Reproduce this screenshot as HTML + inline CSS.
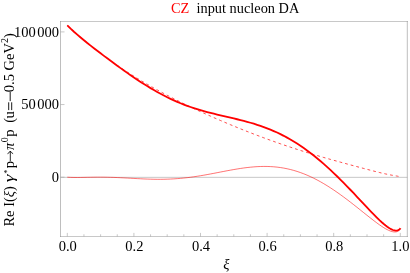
<!DOCTYPE html>
<html><head><meta charset="utf-8"><title>plot</title>
<style>
html,body{margin:0;padding:0;background:#fff;}
body{width:410px;height:273px;overflow:hidden;}
svg{display:block;will-change:transform;}
text{font-family:"Liberation Serif",serif;font-size:14.5px;fill:#000;}
.it{font-style:italic;}
</style></head><body>
<svg width="410" height="273" viewBox="0 0 410 273">
<rect x="0" y="0" width="410" height="273" fill="#fff"/>
<!-- zero axis -->
<line x1="60.5" y1="177.35" x2="407.3" y2="177.35" stroke="#9c9c9c" stroke-width="0.56"/>
<!-- frame -->
<path d="M60.5 21.5H407.3M60.5 236.5H407.3" fill="none" stroke="#9c9c9c" stroke-width="0.56" stroke-linecap="square"/>
<path d="M60.5 21.5V236.5M407.3 21.5V236.5" fill="none" stroke="#8a8a8a" stroke-width="0.56" stroke-linecap="square"/>
<g stroke="#9c9c9c" stroke-width="0.56"><line x1="67.30" y1="236.50" x2="67.30" y2="232.90"/><line x1="83.95" y1="236.50" x2="83.95" y2="234.30"/><line x1="100.60" y1="236.50" x2="100.60" y2="234.30"/><line x1="117.25" y1="236.50" x2="117.25" y2="234.30"/><line x1="133.90" y1="236.50" x2="133.90" y2="232.90"/><line x1="150.55" y1="236.50" x2="150.55" y2="234.30"/><line x1="167.20" y1="236.50" x2="167.20" y2="234.30"/><line x1="183.85" y1="236.50" x2="183.85" y2="234.30"/><line x1="200.50" y1="236.50" x2="200.50" y2="232.90"/><line x1="217.15" y1="236.50" x2="217.15" y2="234.30"/><line x1="233.80" y1="236.50" x2="233.80" y2="234.30"/><line x1="250.45" y1="236.50" x2="250.45" y2="234.30"/><line x1="267.10" y1="236.50" x2="267.10" y2="232.90"/><line x1="283.75" y1="236.50" x2="283.75" y2="234.30"/><line x1="300.40" y1="236.50" x2="300.40" y2="234.30"/><line x1="317.05" y1="236.50" x2="317.05" y2="234.30"/><line x1="333.70" y1="236.50" x2="333.70" y2="232.90"/><line x1="350.35" y1="236.50" x2="350.35" y2="234.30"/><line x1="367.00" y1="236.50" x2="367.00" y2="234.30"/><line x1="383.65" y1="236.50" x2="383.65" y2="234.30"/><line x1="400.30" y1="236.50" x2="400.30" y2="232.90"/><line x1="60.50" y1="177.20" x2="64.50" y2="177.20"/><line x1="60.50" y1="104.55" x2="64.50" y2="104.55"/><line x1="60.50" y1="31.90" x2="64.50" y2="31.90"/></g>
<!-- curves -->
<path d="M67.30 25.37 L70.63 28.45 L73.96 31.46 L77.29 34.41 L80.62 37.29 L83.95 40.12 L87.28 42.88 L90.61 45.59 L93.94 48.24 L97.27 50.83 L100.60 53.38 L103.93 55.87 L107.26 58.31 L110.59 60.70 L113.92 63.05 L117.25 65.35 L120.58 67.61 L123.91 69.83 L127.24 72.00 L130.57 74.13 L133.90 76.23 L137.23 78.28 L140.56 80.30 L143.89 82.29 L147.22 84.23 L150.55 86.15 L153.88 88.04 L157.21 89.89 L160.54 91.71 L163.87 93.51 L167.20 95.27 L170.53 97.01 L173.86 98.73 L177.19 100.42 L180.52 102.08 L183.85 103.73 L187.18 105.35 L190.51 106.95 L193.84 108.53 L197.17 110.08 L200.50 111.63 L203.83 113.15 L207.16 114.65 L210.49 116.14 L213.82 117.61 L217.15 119.06 L220.48 120.50 L223.81 121.92 L227.14 123.33 L230.47 124.72 L233.80 126.10 L237.13 127.46 L240.46 128.81 L243.79 130.14 L247.12 131.46 L250.45 132.76 L253.78 134.05 L257.11 135.32 L260.44 136.58 L263.77 137.82 L267.10 139.05 L270.43 140.26 L273.76 141.45 L277.09 142.63 L280.42 143.79 L283.75 144.94 L287.08 146.07 L290.41 147.18 L293.74 148.28 L297.07 149.36 L300.40 150.43 L303.73 151.48 L307.06 152.51 L310.39 153.53 L313.72 154.53 L317.05 155.52 L320.38 156.50 L323.71 157.47 L327.04 158.42 L330.37 159.36 L333.70 160.30 L337.03 161.22 L340.36 162.14 L343.69 163.05 L347.02 163.96 L350.35 164.86 L353.68 165.76 L357.01 166.65 L360.34 167.55 L363.67 168.44 L367.00 169.32 L370.68 170.28 L373.95 171.13 L376.86 171.87 L379.45 172.51 L381.76 173.06 L383.80 173.53 L385.63 173.94 L387.25 174.29 L388.69 174.58 L389.97 174.84 L391.11 175.05 L392.13 175.24 L393.03 175.40 L393.83 175.54 L394.55 175.66 L395.18 175.76 L395.75 175.86 L396.25 175.94 L396.70 176.02 L397.10 176.09 L397.45 176.16 L397.77 176.22 L398.05 176.28 L398.30 176.33 L398.52 176.39 L398.71 176.43 L398.89 176.48 L399.04 176.53 L399.18 176.57 L399.31 176.61 L399.42 176.65 L399.51 176.68 L399.60 176.72 L399.68 176.75 L399.75 176.78 L399.81 176.81 L399.86 176.84 L399.91 176.87 L399.95 176.89 L399.99 176.92 L400.03 176.94 L400.06 176.96 L400.08 176.98 L400.11 176.99 L400.13 177.01 L400.15 177.03 L400.16 177.04 L400.18 177.05 L400.19 177.07 L400.20 177.08 L400.22 177.09 L400.22 177.10 L400.23 177.11 L400.24 177.11 L400.25 177.12 L400.25 177.13 L400.26 177.13 L400.26 177.14 L400.27 177.15 L400.30 177.20" fill="none" stroke="#ff0000" stroke-width="0.7" stroke-dasharray="2.8 3.0"/>
<path d="M67.30 177.20 L70.63 177.38 L73.96 177.46 L77.29 177.47 L80.62 177.44 L83.95 177.38 L87.28 177.31 L90.61 177.25 L93.94 177.20 L97.27 177.17 L100.60 177.16 L103.93 177.18 L107.26 177.24 L110.59 177.32 L113.92 177.42 L117.25 177.56 L120.58 177.71 L123.91 177.88 L127.24 178.06 L130.57 178.24 L133.90 178.43 L137.23 178.61 L140.56 178.78 L143.89 178.94 L147.22 179.07 L150.55 179.18 L153.88 179.26 L157.21 179.30 L160.54 179.30 L163.87 179.26 L167.20 179.17 L170.53 179.04 L173.86 178.86 L177.19 178.63 L180.52 178.36 L183.85 178.03 L187.18 177.66 L190.51 177.24 L193.84 176.78 L197.17 176.28 L200.50 175.74 L203.83 175.18 L207.16 174.58 L210.49 173.96 L213.82 173.33 L217.15 172.69 L220.48 172.04 L223.81 171.40 L227.14 170.76 L230.47 170.15 L233.80 169.55 L237.13 168.99 L240.46 168.46 L243.79 167.98 L247.12 167.55 L250.45 167.19 L253.78 166.88 L257.11 166.65 L260.44 166.50 L263.77 166.43 L267.10 166.46 L270.43 166.58 L273.76 166.80 L277.09 167.12 L280.42 167.55 L283.75 168.09 L287.08 168.75 L290.41 169.52 L293.74 170.41 L297.07 171.42 L300.40 172.55 L303.73 173.79 L307.06 175.15 L310.39 176.63 L313.72 178.22 L317.05 179.92 L320.38 181.73 L323.71 183.65 L327.04 185.66 L330.37 187.77 L333.70 189.97 L337.03 192.25 L340.36 194.61 L343.69 197.04 L347.02 199.54 L350.35 202.09 L353.68 204.68 L357.01 207.31 L360.34 209.97 L363.67 212.64 L367.00 215.30 L370.68 218.20 L373.95 220.74 L376.86 222.93 L379.45 224.79 L381.76 226.37 L383.80 227.69 L385.63 228.77 L387.25 229.65 L388.69 230.35 L389.97 230.89 L391.11 231.30 L392.13 231.59 L393.03 231.79 L393.83 231.91 L394.55 231.96 L395.18 231.96 L395.75 231.91 L396.25 231.83 L396.70 231.72 L397.10 231.60 L397.45 231.46 L397.77 231.30 L398.05 231.15 L398.30 230.99 L398.52 230.83 L398.71 230.67 L398.89 230.51 L399.04 230.36 L399.18 230.22 L399.31 230.08 L399.42 229.95 L399.51 229.83 L399.60 229.71 L399.68 229.60 L399.75 229.49 L399.81 229.40 L399.86 229.31 L399.91 229.22 L399.95 229.15 L399.99 229.07 L400.03 229.01 L400.06 228.95 L400.08 228.89 L400.11 228.84 L400.13 228.79 L400.15 228.74 L400.16 228.70 L400.18 228.67 L400.19 228.63 L400.20 228.60 L400.22 228.57 L400.22 228.55 L400.23 228.52 L400.24 228.50 L400.25 228.48 L400.25 228.46 L400.26 228.45 L400.26 228.43 L400.27 228.42 L400.30 228.29" fill="none" stroke="#ff0000" stroke-width="0.55"/>
<path d="M67.30 25.37 L70.63 28.62 L73.96 31.72 L77.29 34.68 L80.62 37.53 L83.95 40.30 L87.28 42.99 L90.61 45.63 L93.94 48.23 L97.27 50.80 L100.60 53.34 L103.93 55.85 L107.26 58.34 L110.59 60.82 L113.92 63.27 L117.25 65.71 L120.58 68.12 L123.91 70.50 L127.24 72.86 L130.57 75.18 L133.90 77.46 L137.23 79.70 L140.56 81.89 L143.89 84.02 L147.22 86.11 L150.55 88.13 L153.88 90.09 L157.21 91.99 L160.54 93.81 L163.87 95.57 L167.20 97.25 L170.53 98.85 L173.86 100.39 L177.19 101.85 L180.52 103.24 L183.85 104.56 L187.18 105.80 L190.51 106.99 L193.84 108.10 L197.17 109.16 L200.50 110.17 L203.83 111.12 L207.16 112.03 L210.49 112.90 L213.82 113.74 L217.15 114.55 L220.48 115.34 L223.81 116.12 L227.14 116.89 L230.47 117.67 L233.80 118.45 L237.13 119.25 L240.46 120.07 L243.79 120.92 L247.12 121.81 L250.45 122.75 L253.78 123.73 L257.11 124.77 L260.44 125.88 L263.77 127.05 L267.10 128.30 L270.43 129.63 L273.76 131.05 L277.09 132.55 L280.42 134.14 L283.75 135.83 L287.08 137.62 L290.41 139.50 L293.74 141.49 L297.07 143.58 L300.40 145.77 L303.73 148.07 L307.06 150.46 L310.39 152.96 L313.72 155.55 L317.05 158.25 L320.38 161.03 L323.71 163.91 L327.04 166.88 L330.37 169.93 L333.70 173.07 L337.03 176.27 L340.36 179.55 L343.69 182.89 L347.02 186.30 L350.35 189.75 L353.68 193.24 L357.01 196.77 L360.34 200.32 L363.67 203.87 L367.00 207.41 L370.68 211.29 L373.95 214.67 L376.86 217.59 L379.45 220.10 L381.76 222.23 L383.80 224.02 L385.63 225.51 L387.25 226.73 L388.69 227.73 L389.97 228.53 L391.11 229.15 L392.13 229.63 L393.03 229.99 L393.83 230.25 L394.55 230.42 L395.18 230.52 L395.75 230.57 L396.25 230.58 L396.70 230.55 L397.10 230.49 L397.45 230.42 L397.77 230.33 L398.05 230.23 L398.30 230.12 L398.52 230.01 L398.71 229.90 L398.89 229.80 L399.04 229.69 L399.18 229.59 L399.31 229.49 L399.42 229.40 L399.51 229.31 L399.60 229.23 L399.68 229.15 L399.75 229.08 L399.81 229.01 L399.86 228.95 L399.91 228.89 L399.95 228.84 L399.99 228.79 L400.03 228.74 L400.06 228.70 L400.08 228.66 L400.11 228.63 L400.13 228.60 L400.15 228.57 L400.16 228.54 L400.18 228.52 L400.19 228.50 L400.20 228.48 L400.22 228.46 L400.22 228.44 L400.23 228.43 L400.24 228.42 L400.25 228.40 L400.25 228.39 L400.26 228.38 L400.26 228.37 L400.27 228.36 L400.30 228.29" fill="none" stroke="#ff0000" stroke-width="1.8" stroke-linecap="butt" stroke-linejoin="round"/>
<!-- title -->
<text x="171" y="13" xml:space="preserve" style="font-size:14.35px"><tspan fill="#ff0000">CZ</tspan>  input nucleon DA</text>
<!-- x tick labels -->
<g text-anchor="middle">
<text x="67.8" y="251.2">0.0</text>
<text x="134.4" y="251.2">0.2</text>
<text x="201" y="251.2">0.4</text>
<text x="267.6" y="251.2">0.6</text>
<text x="334.2" y="251.2">0.8</text>
<text x="400.4" y="251.2">1.0</text>
</g>
<!-- y tick labels -->
<g text-anchor="end">
<text x="59.1" y="36.6">100<tspan dx="1.6">000</tspan></text>
<text x="59.1" y="109.1">50<tspan dx="1.6">000</tspan></text>
<text x="59.1" y="181.6">0</text>
</g>
<!-- x label -->
<text x="226.3" y="268.7" class="it" text-anchor="middle">&#958;</text>
<!-- y label -->
<g transform="translate(13.6 226.6) rotate(-90)">
<text x="0" y="0" xml:space="preserve">Re I(<tspan class="it">&#958;</tspan>)</text>
<text transform="translate(44.3 0) scale(1.35 1)" class="it">&#947;</text>
<text x="53.1" y="-4.0" style="font-size:7.5px">*</text>
<text x="58.3" y="0">p</text>
<path d="M65.5 -3.3 H75.3 M72.9 -6.1 Q73.9 -4.0 75.6 -3.3 Q73.9 -2.6 72.9 -0.5" fill="none" stroke="#000" stroke-width="0.85"/>
<text x="76.7" y="0" class="it">&#960;</text>
<text x="84.4" y="-5.5" style="font-size:10px">0</text>
<text x="89.9" y="0">p</text>
<text x="103.9" y="0">(</text>
<text x="108.2" y="0">u</text>
<path d="M116.5 -1.9 H124.3 M116.5 -4.9 H124.3 M125.5 -3.4 H134.6" fill="none" stroke="#000" stroke-width="0.9"/>
<text x="134.4" y="0" xml:space="preserve">0.5 GeV<tspan dy="-5.5" font-size="10">2</tspan><tspan dy="5.5">)</tspan></text>
</g>
</svg>
</body></html>
